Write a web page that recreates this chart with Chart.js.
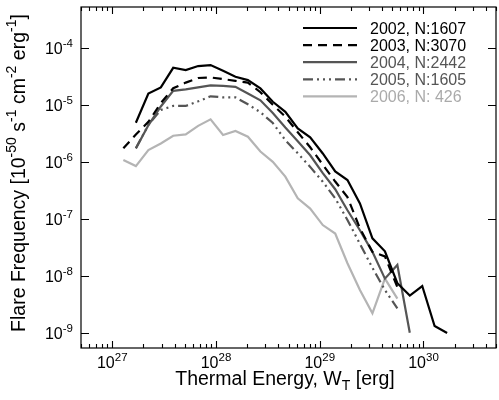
<!DOCTYPE html>
<html><head><meta charset="utf-8">
<script src="https://cdn.jsdelivr.net/npm/chart.js@4.4.1/dist/chart.umd.min.js"></script>
<style>html,body{margin:0;padding:0;background:#fff;}canvas{display:block}</style>
</head><body>
<canvas id="c" width="499" height="400"></canvas>
<script>
// Thermal energy bin centres [erg]
const energies = [1.28e27,1.69e27,2.23e27,2.94e27,3.87e27,5.11e27,6.73e27,8.87e27,1.17e28,1.54e28,2.03e28,2.68e28,3.53e28,4.66e28,6.14e28,8.09e28,1.07e29,1.41e29,1.85e29,2.44e29,3.22e29,4.25e29,5.60e29,7.38e29,9.73e29,1.28e30,1.69e30];
const years = ['2002','2003','2004','2005','2006'];
const counts = ['1607','3070','2442','1605',' 426'];
// Flare frequency [1e-50 s^-1 cm^-2 erg^-1]
const freq2002 = [null,4.83e-6,1.58e-5,2.02e-5,4.46e-5,4.06e-5,4.78e-5,4.97e-5,3.94e-5,3.10e-5,2.71e-5,1.94e-5,1.13e-5,7.53e-6,3.85e-6,2.68e-6,1.40e-6,6.76e-7,4.79e-7,1.86e-7,4.53e-8,2.69e-8,7.41e-9,4.50e-9,6.61e-9,1.31e-9,9.89e-10];
const freq2003 = [1.72e-6,3.02e-6,5.01e-6,1.07e-5,1.95e-5,2.45e-5,2.95e-5,3.02e-5,2.82e-5,2.63e-5,2.45e-5,1.66e-5,1.0e-5,6.2e-6,3.3e-6,1.8e-6,8.9e-7,4.5e-7,2.4e-7,6.8e-8,2.63e-8,2.19e-8,6.31e-9];
const freq2004 = [null,1.72e-6,4.37e-6,9.33e-6,1.76e-5,1.86e-5,2.02e-5,2.19e-5,2.14e-5,2.07e-5,1.58e-5,1.20e-5,7.2e-6,4.0e-6,2.3e-6,1.3e-6,6.3e-7,3.3e-7,1.41e-7,6.3e-8,2.63e-8,8.91e-9,1.55e-8,1.0e-9];
const freq2005 = [null,1.72e-6,4.47e-6,8.13e-6,9.55e-6,9.55e-6,1.15e-5,1.41e-5,1.35e-5,1.35e-5,1.02e-5,7.41e-6,4.79e-6,2.40e-6,1.41e-6,8.13e-7,4.47e-7,2.29e-7,9.55e-8,3.63e-8,1.38e-8,5.62e-9,2.69e-9];
const freq2006 = [1.07e-6,8.41e-7,1.60e-6,2.09e-6,2.86e-6,3.02e-6,4.27e-6,5.55e-6,2.95e-6,3.47e-6,2.75e-6,1.51e-6,1.0e-6,5.50e-7,2.29e-7,1.51e-7,7.76e-8,5.50e-8,1.66e-8,5.62e-9,2.19e-9,8.91e-9,3.98e-9];
const xTicks = [1e27,1e28,1e29,1e30];
const xTickExp = ['27','28','29','30'];
const yTicks = [1e-4,1e-5,1e-6,1e-7,1e-8,1e-9];
const yTickExp = ['-4','-5','-6','-7','-8','-9'];

const series = [freq2002,freq2003,freq2004,freq2005,freq2006];
const lineColors = ['#000000','#000000','#555555','#555555','#b4b4b4'];
const textColors = ['#000000','#000000','#555555','#555555','#aaaaaa'];
const dashes = [[],[9,6],[],[10,4,2,4,2,4,2,4],[]];
const FONT = "'Liberation Sans', Arial, Helvetica, sans-serif";

const datasets = series.map((s,k)=>({
  label: years[k]+', N:'+counts[k],
  data: s.map((v,i)=>({x:energies[i], y:v})).filter(p=>p.y!==null),
  borderColor: lineColors[k], borderDash: dashes[k], borderWidth: 2.2,
  pointRadius: 0, fill:false, tension:0
}));

function drawRich(ctx, parts, x, y, size, align){
  const small = size*0.72;
  let w = 0;
  for(const [t,k] of parts){ ctx.font = (k?small:size)+'px '+FONT; w += ctx.measureText(t).width; }
  let cx = align==='center' ? x-w/2 : align==='right' ? x-w : x;
  ctx.textAlign='left'; ctx.textBaseline='alphabetic';
  for(const [t,k] of parts){
    ctx.font = (k?small:size)+'px '+FONT;
    const dy = k===1 ? -size*0.44 : k===-1 ? size*0.25 : 0;
    ctx.fillText(t, cx, y+dy);
    cx += ctx.measureText(t).width;
  }
}

const decor = {
  id:'decor',
  afterDraw(chart){
    const {ctx, chartArea:a, scales:{x,y}} = chart;
    ctx.save();
    ctx.strokeStyle='#000'; ctx.lineWidth=1.2;
    ctx.strokeRect(a.left, a.top, a.right-a.left, a.bottom-a.top);
    ctx.lineWidth=1.1;
    ctx.beginPath();
    for(let d=26; d<=30; d++){
      for(let m=1; m<=9; m++){
        const v = m*Math.pow(10,d);
        if(v < x.min || v > x.max) continue;
        const px = Math.round(x.getPixelForValue(v))+0.5;
        const len = m===1 ? 7 : 4;
        ctx.moveTo(px, a.bottom); ctx.lineTo(px, a.bottom-len);
        ctx.moveTo(px, a.top); ctx.lineTo(px, a.top+len);
      }
    }
    yTicks.forEach(v=>{
      const py = Math.round(y.getPixelForValue(v))+0.5;
      ctx.moveTo(a.left, py); ctx.lineTo(a.left+8, py);
      ctx.moveTo(a.right, py); ctx.lineTo(a.right-8, py);
    });
    ctx.stroke();
    ctx.fillStyle='#000';
    xTicks.forEach((v,i)=>{
      drawRich(ctx, [['10',0],[xTickExp[i],1]], x.getPixelForValue(v), a.bottom+20, 16, 'center');
    });
    yTicks.forEach((v,i)=>{
      drawRich(ctx, [['10',0],[yTickExp[i],1]], a.left-8, y.getPixelForValue(v)+6, 16, 'right');
    });
    drawRich(ctx, [['Thermal Energy, W',0],['T',-1],[' [erg]',0]], 285, 385, 19.5, 'center');
    ctx.save();
    ctx.translate(25, 173);
    ctx.rotate(-Math.PI/2);
    drawRich(ctx, [['Flare Frequency [10',0],['-50',1],[' s',0],['-1',1],[' cm',0],['-2',1],[' erg',0],['-1',1],[']',0]], 0, 0, 19.5, 'center');
    ctx.restore();
    // legend
    chart.data.datasets.forEach((ds,k)=>{
      const ly = 28 + k*17.1;
      ctx.strokeStyle = ds.borderColor; ctx.lineWidth = 2.2;
      ctx.setLineDash(ds.borderDash);
      ctx.beginPath(); ctx.moveTo(303, ly); ctx.lineTo(357, ly); ctx.stroke();
      ctx.setLineDash([]);
      ctx.fillStyle = textColors[k];
      ctx.font = '16px '+FONT; ctx.textAlign='left'; ctx.textBaseline='alphabetic';
      ctx.fillText(ds.label, 370, ly+6);
    });
    ctx.restore();
  }
};

new Chart(document.getElementById('c'), {
  type:'line',
  data:{datasets},
  options:{
    responsive:false, animation:false, devicePixelRatio:1,
    layout:{padding:{left:81,right:3,top:7,bottom:52}},
    plugins:{legend:{display:false}, tooltip:{enabled:false}},
    scales:{
      x:{type:'logarithmic', display:false, min:5e26, max:5e30},
      y:{type:'logarithmic', display:false, min:5.4e-10, max:5.2e-4}
    }
  },
  plugins:[decor]
});
</script>
</body></html>
